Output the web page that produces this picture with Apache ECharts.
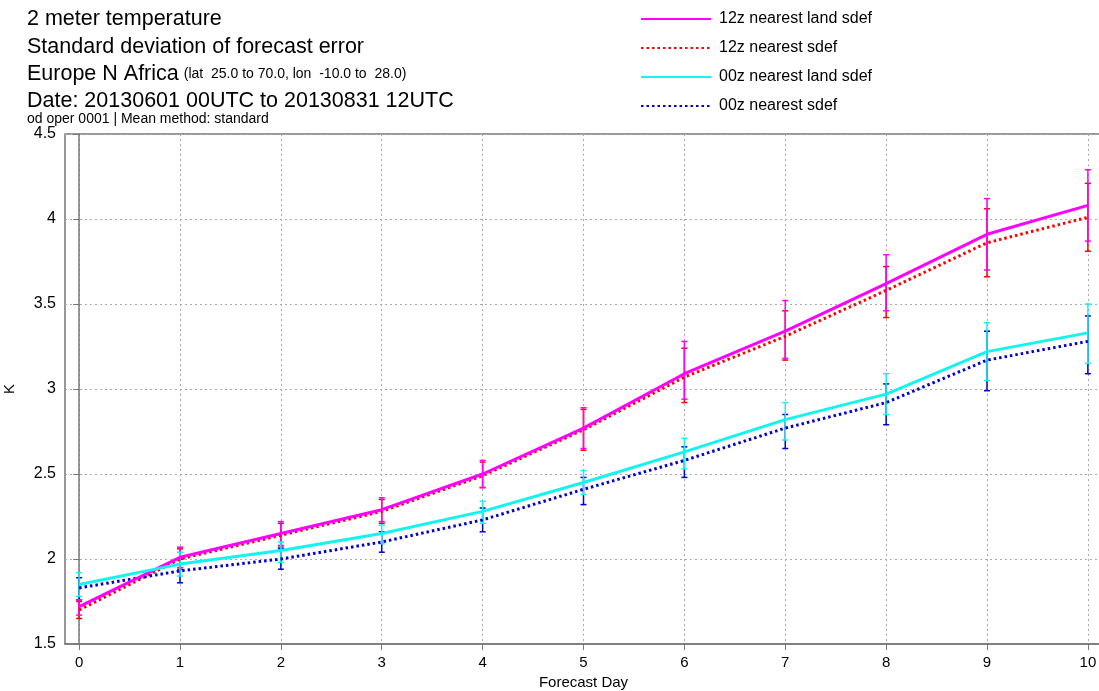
<!DOCTYPE html>
<html>
<head>
<meta charset="utf-8">
<script src="https://cdn.jsdelivr.net/npm/echarts@6/dist/echarts.min.js"></script>
<style>
  html, body { margin: 0; padding: 0; background: #fff; }
  #chartArea { width: 1099px; height: 691px; }
</style>
</head>
<body>
<div id="chartArea"></div>
<script>
let days = [0, 1, 2, 3, 4, 5, 6, 7, 8, 9, 10];

// 12z nearest land sdef
let m12Land = [1.72, 2.01, 2.15, 2.29, 2.50, 2.77, 3.09, 3.34, 3.62, 3.91, 4.08];
let m12LandLow = [1.67, 1.95, 2.08, 2.22, 2.42, 2.65, 2.94, 3.18, 3.46, 3.70, 3.87];
let m12LandHigh = [1.76, 2.07, 2.22, 2.36, 2.58, 2.89, 3.28, 3.52, 3.79, 4.12, 4.29];

// 12z nearest sdef
let m12 = [1.70, 2.00, 2.14, 2.28, 2.49, 2.76, 3.07, 3.31, 3.58, 3.86, 4.01];
let m12Low = [1.65, 1.94, 2.07, 2.21, 2.42, 2.64, 2.92, 3.17, 3.42, 3.66, 3.81];
let m12High = [1.75, 2.06, 2.21, 2.35, 2.57, 2.88, 3.24, 3.46, 3.72, 4.06, 4.21];

// 00z nearest land sdef
let m00Land = [1.85, 1.97, 2.05, 2.15, 2.28, 2.45, 2.63, 2.82, 2.97, 3.22, 3.33];
let m00LandLow = [1.78, 1.90, 1.98, 2.09, 2.21, 2.38, 2.53, 2.70, 2.85, 3.05, 3.15];
let m00LandHigh = [1.92, 2.04, 2.10, 2.20, 2.34, 2.52, 2.71, 2.92, 3.09, 3.39, 3.50];

// 00z nearest sdef
let m00 = [1.83, 1.93, 2.00, 2.10, 2.23, 2.41, 2.58, 2.77, 2.92, 3.17, 3.28];
let m00Low = [1.76, 1.86, 1.94, 2.04, 2.16, 2.32, 2.48, 2.65, 2.79, 2.99, 3.09];
let m00High = [1.89, 2.00, 2.06, 2.16, 2.30, 2.48, 2.66, 2.85, 3.03, 3.34, 3.43];

let seriesNames = ['12z nearest land sdef', '12z nearest sdef', '00z nearest land sdef', '00z nearest sdef'];

let magenta = '#ff00ff';
let red = '#ff0000';
let cyan = '#11f4f0';
let blue = '#0000d0';
let fontName = 'Liberation Sans, Arial, sans-serif';

function pairs(ys) {
    let res = [];
    for (let i = 0; i < days.length; i++) {
        res.push([days[i], ys[i]]);
    }
    return res;
}

function bars(low, high) {
    let res = [];
    for (let i = 0; i < days.length; i++) {
        res.push([days[i], low[i], high[i]]);
    }
    return res;
}

function errorBar(color) {
    return function (params, api) {
        let top = api.coord([api.value(0), api.value(2)]);
        let bot = api.coord([api.value(0), api.value(1)]);
        let hw = 3;
        let style = {stroke: color, lineWidth: 1.5};
        return {
            type: 'group',
            children: [
                {type: 'line', shape: {x1: top[0], y1: top[1], x2: bot[0], y2: bot[1]}, style: style},
                {type: 'line', shape: {x1: top[0] - hw, y1: top[1], x2: top[0] + hw, y2: top[1]}, style: style},
                {type: 'line', shape: {x1: bot[0] - hw, y1: bot[1], x2: bot[0] + hw, y2: bot[1]}, style: style}
            ]
        };
    };
}

function titleLine(text, top, size) {
    return {
        text: text, left: 27, top: top, padding: 0,
        textStyle: {fontSize: size, fontWeight: 'normal', color: '#000', fontFamily: fontName}
    };
}

let myChart = echarts.init(document.getElementById('chartArea'));

let option = {
    animation: false,
    backgroundColor: '#fff',
    textStyle: {fontFamily: fontName},
    title: [
        titleLine('2 meter temperature', 8, 21.5),
        titleLine('Standard deviation of forecast error', 36, 21.5),
        {
            text: '{a|Europe N Africa} {b|(lat  25.0 to 70.0, lon  -10.0 to  28.0)}', left: 27, top: 63, padding: 0,
            textStyle: {
                fontFamily: fontName,
                fontWeight: 'normal',
                rich: {
                    a: {fontSize: 21.5, color: '#000', fontWeight: 'normal', fontFamily: fontName},
                    b: {fontSize: 14, color: '#000', fontWeight: 'normal', fontFamily: fontName}
                }
            }
        },
        titleLine('Date: 20130601 00UTC to 20130831 12UTC', 90, 21.5),
        titleLine('od oper 0001 | Mean method: standard', 112, 14)
    ],
    legend: {
        orient: 'vertical',
        left: 640,
        top: 11,
        padding: 0,
        itemWidth: 70,
        itemHeight: 14,
        itemGap: 13,
        textStyle: {fontSize: 16, color: '#000', fontFamily: fontName, padding: [0, 0, 0, 3]},
        itemStyle: {color: 'transparent', borderColor: 'transparent', borderWidth: 0},
        data: seriesNames
    },
    grid: {
        left: 65,
        right: -3,
        top: 134,
        bottom: 47,
        outerBoundsMode: 'none',
        containLabel: false,
        show: true,
        borderColor: '#777',
        borderWidth: 1.5
    },
    xAxis: {
        type: 'value',
        min: -0.14,
        max: 10.14,
        name: 'Forecast Day',
        nameLocation: 'middle',
        nameGap: 26,
        nameTextStyle: {fontSize: 15, color: '#000', fontFamily: fontName},
        axisLine: {show: true, lineStyle: {color: '#777', width: 1.5}},
        axisTick: {show: true, length: 6, lineStyle: {color: '#777'}, customValues: days},
        axisLabel: {fontSize: 15, color: '#000', margin: 11, customValues: days},
        splitLine: {show: true, lineStyle: {color: '#aaa', type: [2, 3]}}
    },
    yAxis: {
        type: 'value',
        min: 1.5,
        max: 4.5,
        interval: 0.5,
        name: 'K',
        nameLocation: 'middle',
        nameGap: 48,
        nameTextStyle: {fontSize: 15, color: '#000', fontFamily: fontName},
        axisLine: {show: true, lineStyle: {color: '#777', width: 1.5}},
        axisTick: {show: true, length: 6, lineStyle: {color: '#777'}},
        axisLabel: {fontSize: 16, color: '#000', margin: 9},
        splitLine: {show: true, lineStyle: {color: '#aaa', type: [2, 3]}}
    },
    series: [
        {
            name: seriesNames[0], type: 'line', data: pairs(m12Land), symbol: 'none', z: 5,
            color: magenta, lineStyle: {color: magenta, width: 3}
        },
        {
            name: seriesNames[1], type: 'line', data: pairs(m12), symbol: 'none', z: 4,
            color: red, lineStyle: {color: red, width: 3, type: [2.5, 3]}
        },
        {
            name: seriesNames[2], type: 'line', data: pairs(m00Land), symbol: 'none', z: 5,
            color: cyan, lineStyle: {color: cyan, width: 3}
        },
        {
            name: seriesNames[3], type: 'line', data: pairs(m00), symbol: 'none', z: 4,
            color: blue, lineStyle: {color: blue, width: 3, type: [2.5, 3]}
        },
        {
            name: 'range 12z land', type: 'custom', renderItem: errorBar(magenta),
            data: bars(m12LandLow, m12LandHigh), z: 3, silent: true
        },
        {
            name: 'range 12z', type: 'custom', renderItem: errorBar(red),
            data: bars(m12Low, m12High), z: 2, silent: true
        },
        {
            name: 'range 00z land', type: 'custom', renderItem: errorBar(cyan),
            data: bars(m00LandLow, m00LandHigh), z: 3, silent: true
        },
        {
            name: 'range 00z', type: 'custom', renderItem: errorBar(blue),
            data: bars(m00Low, m00High), z: 2, silent: true
        }
    ]
};

myChart.setOption(option);
</script>
</body>
</html>
